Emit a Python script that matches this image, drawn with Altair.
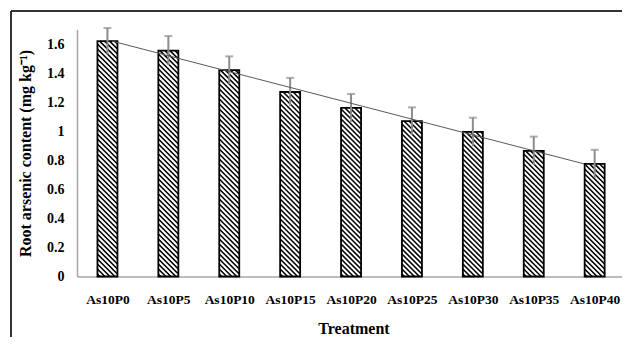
import altair as alt
import pandas as pd

# ---- data ----
treatments = ["As10P0", "As10P5", "As10P10", "As10P15", "As10P20",
              "As10P25", "As10P30", "As10P35", "As10P40"]
root_as = [1.62, 1.555, 1.42, 1.27, 1.16, 1.07, 0.995, 0.865, 0.775]
errors = [0.09, 0.10, 0.095, 0.097, 0.096, 0.094, 0.098, 0.098, 0.097]

df = pd.DataFrame({
    "idx": list(range(1, len(treatments) + 1)),
    "Treatment": treatments,
    "value": root_as,
    "err": errors,
})

# ---- layout constants ----
W, H = 545, 247
YMAX = 1.7
BW = 20          # bar width in px
S = 5            # hatch horizontal period in px
PXU = 60.9       # px per category step
PYU = H / YMAX   # px per value unit
SERIF = "Liberation Serif"

xscale = alt.Scale(domain=[0.5, 0.5 + W / PXU], nice=False, zero=False, padding=0)
yscale = alt.Scale(domain=[0, YMAX], nice=False, padding=0)

label_expr = "[" + ",".join("'%s'" % t for t in treatments) + "][datum.value - 1]"

x_axis = alt.Axis(
    values=list(range(1, 10)),
    labelExpr=label_expr,
    ticks=False,
    grid=False,
    domainColor="#a6a6a6",
    domainWidth=1.5,
    labelFont=SERIF,
    labelFontWeight="bold",
    labelFontSize=13.5,
    labelColor="black",
    labelPadding=16,
    labelFlush=False,
    labelOverlap=False,
    title="Treatment",
    titleFont=SERIF,
    titleFontWeight="bold",
    titleFontSize=16,
    titleColor="black",
    titleX=276.5,
    titleY=51.5,
    titleAlign="center",
    titleBaseline="middle",
)
y_axis = alt.Axis(
    values=[0, 0.2, 0.4, 0.6, 0.8, 1.0, 1.2, 1.4, 1.6],
    format=".1~f",
    ticks=False,
    grid=False,
    domainColor="#a6a6a6",
    domainWidth=1.5,
    labelFont=SERIF,
    labelFontWeight="bold",
    labelFontSize=14,
    labelColor="black",
    labelPadding=13,
    title="Root arsenic content (mg kg⁻¹)",
    titleFont=SERIF,
    titleFontWeight="bold",
    titleFontSize=16,
    titleColor="black",
    titleX=-52,
    titleY=H / 2,
    titleAngle=-90,
    titleAlign="center",
    titleBaseline="middle",
)


def X(field):
    return alt.X(field, scale=xscale, axis=x_axis)


def Y(field):
    return alt.Y(field, scale=yscale, axis=y_axis)


base = alt.Chart(df)

# hatch lines inside bars (Y_up + X = c, 45 deg "\" pattern)
hatch = (
    base.transform_calculate(
        L=f"(datum.idx - 0.5) * {PXU} - {BW/2}",
        T=f"datum.value * {PYU}",
    )
    .transform_calculate(ks=f"sequence(0, ceil(({BW} + datum.T) / {S}) + 1)")
    .transform_flatten(["ks"])
    .transform_calculate(c=f"datum.L + (datum.ks + 0.5) * {S}")
    .transform_filter(f"datum.c < datum.L + {BW} + datum.T")
    .transform_calculate(
        xa=f"max(datum.L, datum.c - datum.T)",
        xb=f"min(datum.L + {BW}, datum.c)",
    )
    .transform_calculate(
        ya=f"(datum.c - datum.xa) / {PYU}",
        yb=f"(datum.c - datum.xb) / {PYU}",
        xad=f"datum.xa / {PXU} + 0.5",
        xbd=f"datum.xb / {PXU} + 0.5",
    )
    .mark_rule(color="black", strokeWidth=1.6, strokeCap="butt")
    .encode(x=X("xad:Q"), x2="xbd:Q", y=Y("ya:Q"), y2="yb:Q")
)

bars_outline = base.mark_bar(
    size=BW, fillOpacity=0, stroke="black", strokeWidth=1.8
).encode(x=X("idx:Q"), y=Y("value:Q"))

err_rule = base.transform_calculate(
    lo="datum.value - datum.err", hi="datum.value + datum.err"
).mark_rule(color="#8c8c8c", strokeWidth=2).encode(
    x=X("idx:Q"), y=Y("lo:Q"), y2="hi:Q"
)

err_cap = base.transform_calculate(hi="datum.value + datum.err").mark_tick(
    color="#8c8c8c", orient="horizontal", size=8, thickness=2
).encode(x=X("idx:Q"), y=Y("hi:Q"))

trend = base.transform_regression("value", "idx", method="linear").mark_line(
    color="#595959", strokeWidth=1
).encode(x=X("idx:Q"), y=Y("value:Q"))

# chart-area frame (only its top and left edges fall inside the picture)
frame_df = pd.DataFrame({"b": [0]})
border_top = alt.Chart(frame_df).mark_rule(color="#333333", strokeWidth=2).encode(
    x=alt.value(-66), x2=alt.value(W + 10), y=alt.value(-18.5)
)
border_left = alt.Chart(frame_df).mark_rule(color="#333333", strokeWidth=2).encode(
    x=alt.value(-66), y=alt.value(-18.5), y2=alt.value(H + 80)
)

chart = alt.layer(
    hatch, bars_outline, err_rule, err_cap, trend, border_top, border_left
).properties(
    width=W,
    height=H,
    autosize=alt.AutoSizeParams(type="none"),
    padding={"left": 69, "top": 21.5, "right": 0, "bottom": 60},
    background="white",
).configure_view(stroke=None)

chart.save("out.html", embed_options={"renderer": "svg", "actions": False})
